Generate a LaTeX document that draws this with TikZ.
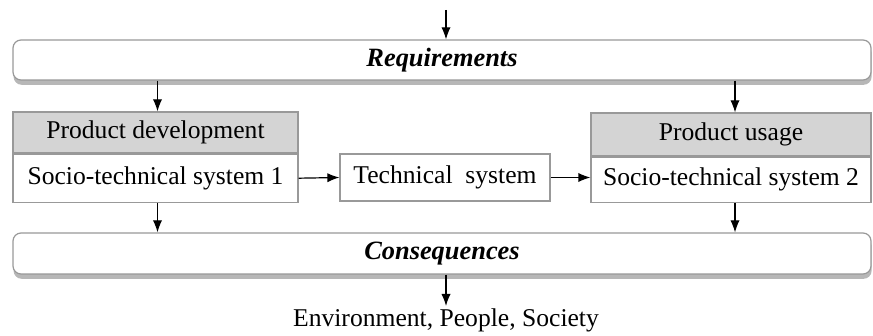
\documentclass[tikz,border=0pt]{standalone}
\usepackage{fontspec}
\setmainfont{Liberation Serif}
\usepackage{tikz}
\usetikzlibrary{arrows.meta,shadows}

\tikzset{
  box/.style={draw=black!40, line width=0.6pt, fill=white, inner sep=0pt, font=\fontsize{12.8}{15}\selectfont},
  headbox/.style={box, fill=black!17},
  band/.style={box, rounded corners=4pt, drop shadow={shadow xshift=0.3pt, shadow yshift=-2.4pt, opacity=0.4, fill=black!70},
    font=\fontsize{13.2}{15}\selectfont\bfseries\itshape},
}

\begin{document}
\begin{tikzpicture}[x=0.5pt, y=-0.5pt, >={Latex[length=6pt,width=4.6pt]}]
  \useasboundingbox (0,0) rectangle (873,336);

  \node[band, minimum width=429pt, minimum height=20pt] (req) at (442,60) {Requirements};
  \node[headbox, minimum width=142.5pt, minimum height=20.5pt] (pdhead) at (155.5,132.5) {Product development};
  \node[box, minimum width=142.5pt, minimum height=24pt, anchor=north] (sts1) at (pdhead.south) {Socio-technical system 1};
  \node[box, minimum width=105pt, minimum height=23.5pt] (tech) at (445,177.5) {Technical~~system};
  \node[headbox, minimum width=140pt, minimum height=21.5pt] (puhead) at (731,134.5) {Product usage};
  \node[box, minimum width=140pt, minimum height=22.5pt, anchor=north] (sts2) at (puhead.south) {Socio-technical system 2};
  \node[band, minimum width=429pt, minimum height=20.5pt] (cons) at (442,253.5) {Consequences};
  \node[font=\fontsize{12.8}{15}\selectfont, inner sep=1pt, anchor=north] (env) at (446,306) {Environment, People, Society};
  \coordinate (top) at (446,10);

  \path[->, line width=0.6pt]
    (top) edge (top |- req.north)
    ([xshift=1pt]pdhead.north |- req.south) edge ([xshift=1pt]pdhead.north)
    ([xshift=2pt]puhead.north |- req.south) edge ([xshift=2pt]puhead.north)
    (sts1.east) edge (tech.west)
    (tech.east) edge (sts2.west |- tech.east)
    ([xshift=1pt]sts1.south) edge ([xshift=1pt]sts1.south |- cons.north)
    ([xshift=2pt]sts2.south) edge ([xshift=2pt]sts2.south |- cons.north)
    (env.north |- cons.south) edge (env.north)
  ;
\end{tikzpicture}
\end{document}
